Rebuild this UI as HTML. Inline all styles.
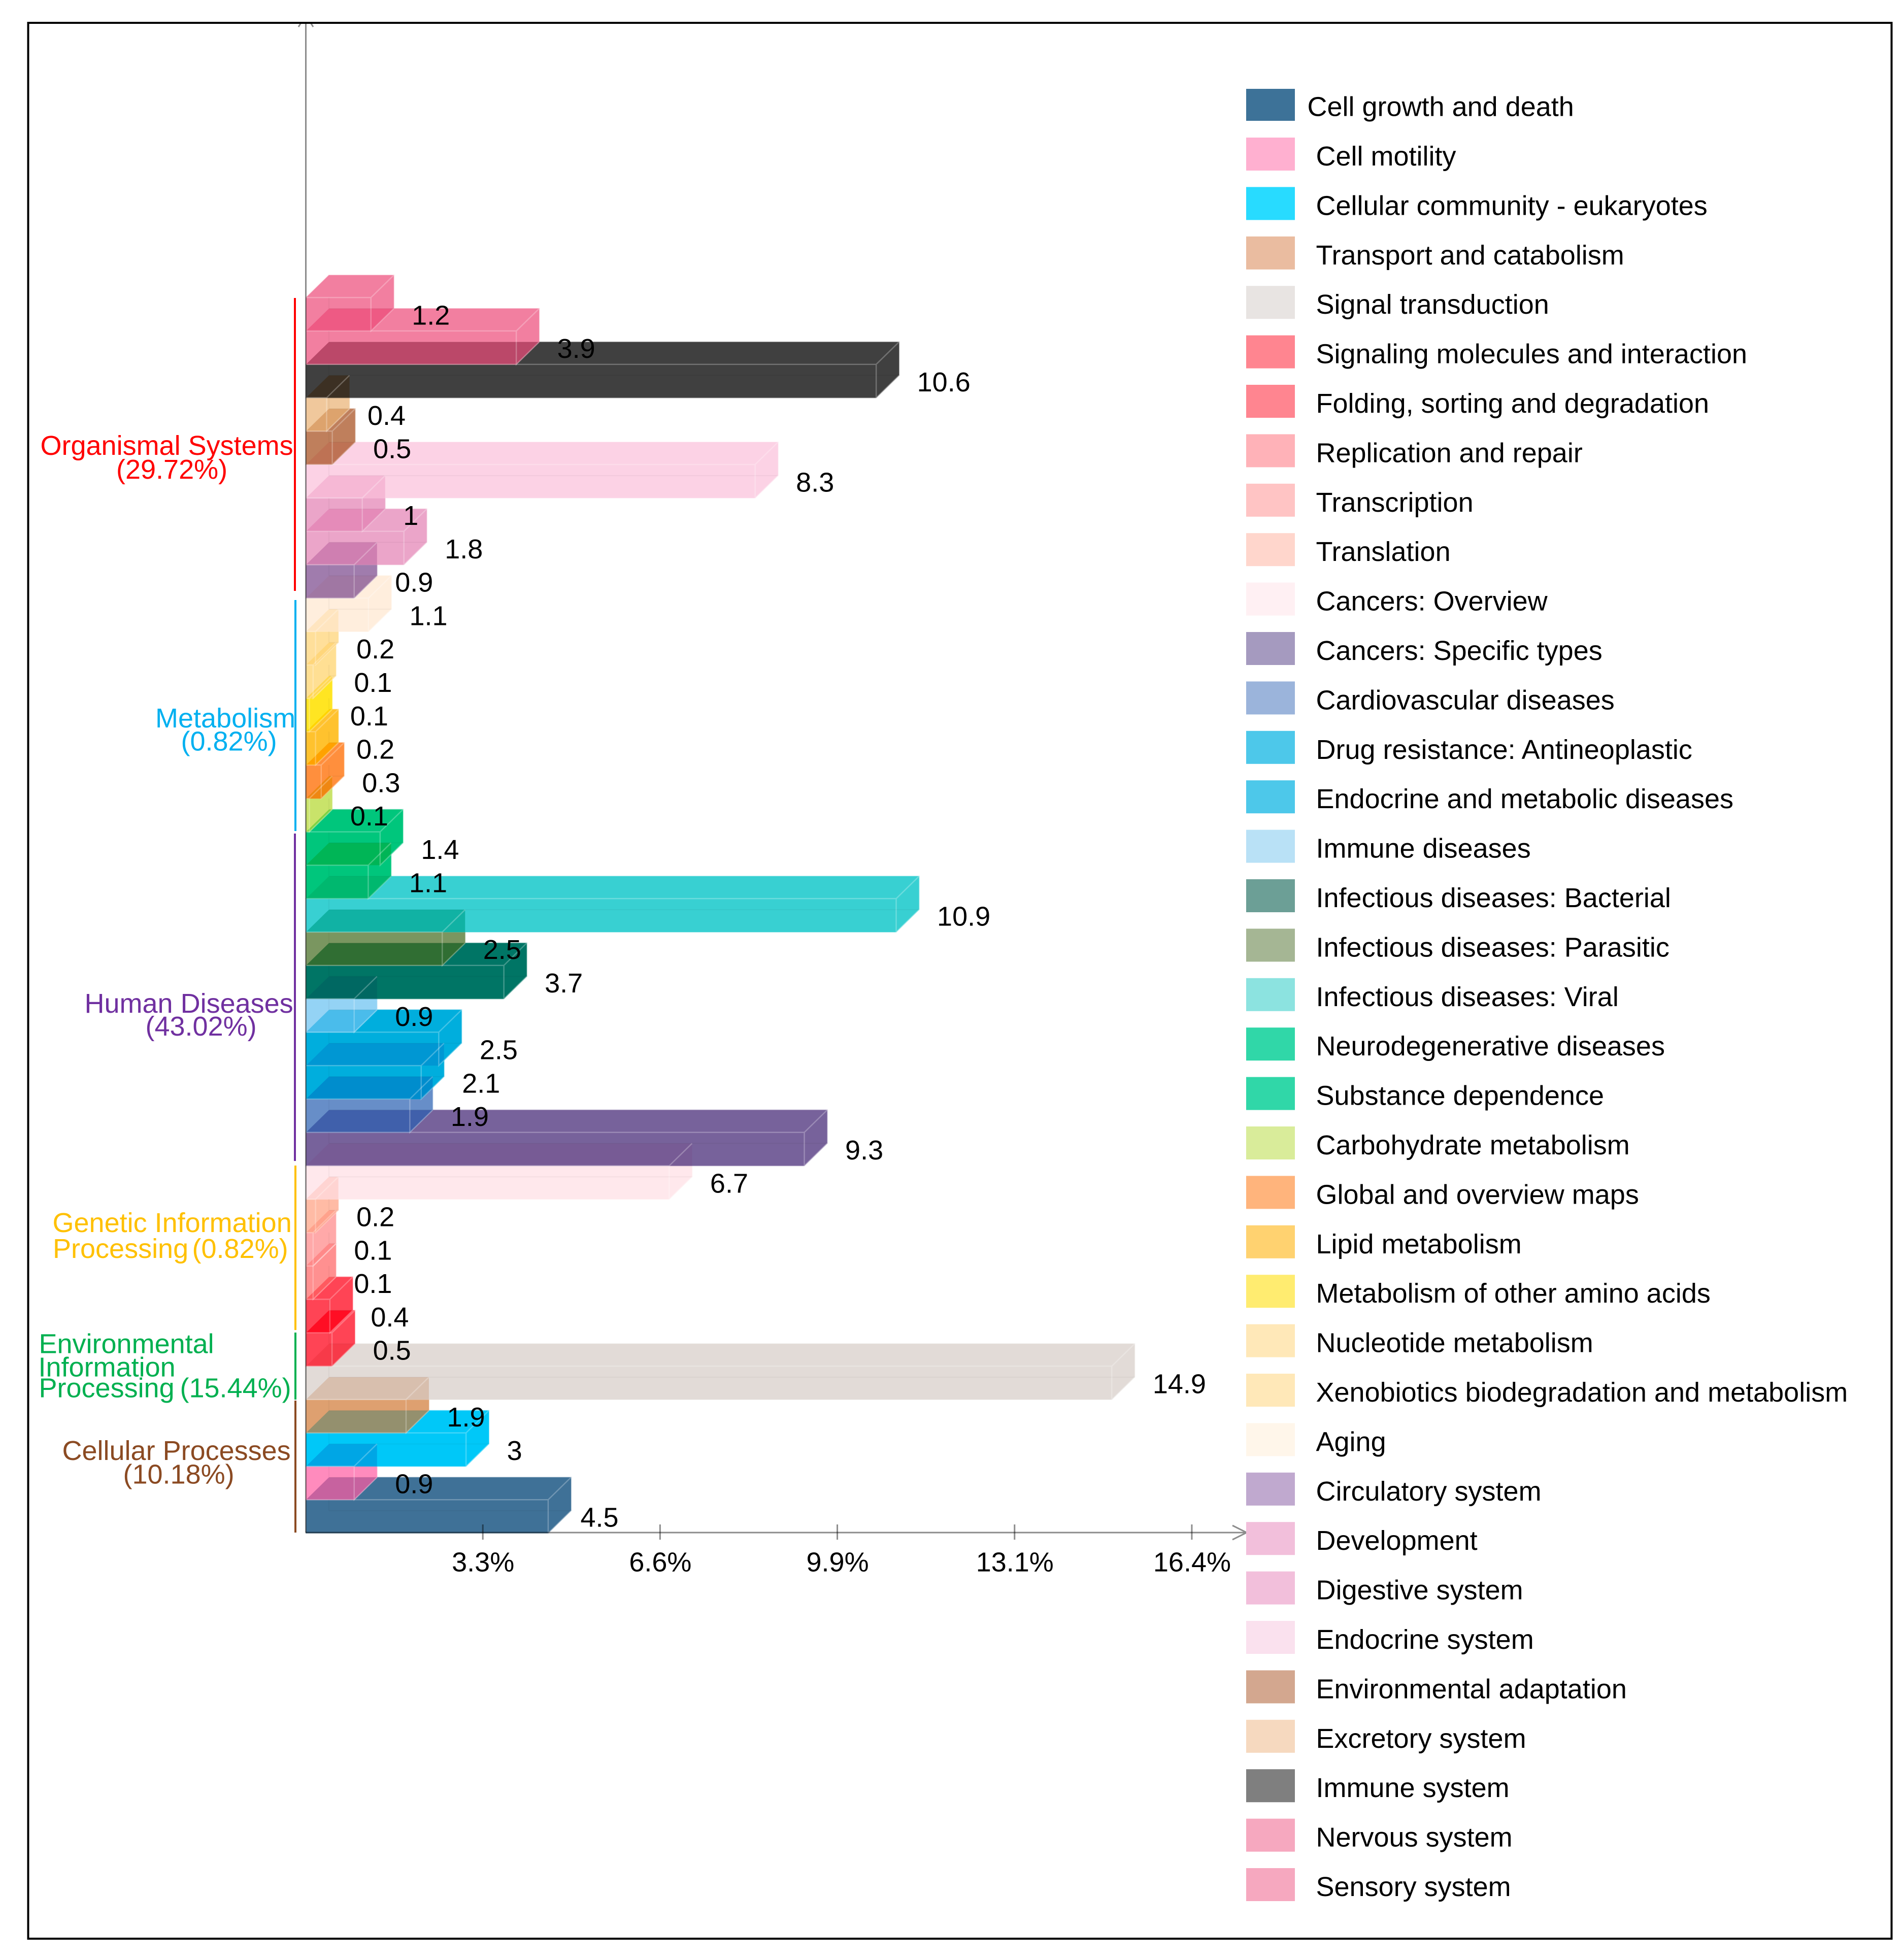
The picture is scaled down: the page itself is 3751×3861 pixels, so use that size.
<!DOCTYPE html>
<html lang="en">
<head>
<meta charset="utf-8">
<title>KEGG pathway classification chart</title>
<style>
html,body{margin:0;padding:0;background:#fff;}
#chart{display:block;font-family:"Liberation Sans",Arial,sans-serif;}
text{font-family:"Liberation Sans",Arial,sans-serif;font-size:54px;}
</style>
</head>
<body>
<svg id="chart" xmlns="http://www.w3.org/2000/svg" width="3751" height="3861" viewBox="0 0 3751 3861">
<rect x="0" y="0" width="3751" height="3861" fill="#ffffff"/>
<defs id="clips"></defs>
<g id="bars"></g>
<g id="axes"></g>
<g id="brackets"></g>
<g transform="translate(1.5,0)">
<text fill="#ff0000" x="78" y="896">Organismal Systems</text>
<text fill="#ff0000" x="227.5" y="943">(29.72%)</text>
<text fill="#00b0f0" x="304.5" y="1433">Metabolism</text>
<text fill="#00b0f0" x="355" y="1478.5">(0.82%)</text>
<text fill="#7030a0" x="165" y="1995">Human Diseases</text>
<text fill="#7030a0" x="285" y="2040">(43.02%)</text>
<text fill="#ffc000" x="102" y="2427">Genetic Information</text>
<text fill="#ffc000" x="102.5" y="2478">Processing</text>
<text fill="#ffc000" x="377" y="2478">(0.82%)</text>
<text fill="#00b050" x="75" y="2665.7">Environmental</text>
<text fill="#00b050" x="74" y="2711.7">Information</text>
<text fill="#00b050" x="75" y="2752.7">Processing</text>
<text fill="#00b050" x="353" y="2752.7">(15.44%)</text>
<text fill="#8b4a22" x="121" y="2876">Cellular Processes</text>
<text fill="#8b4a22" x="241" y="2922.7">(10.18%)</text>
</g>
<g id="value-labels"></g>
<g id="legend"></g>
<rect x="55.5" y="45" width="3671" height="3774" fill="none" stroke="#000000" stroke-width="4"/>
</svg>
<script>
const categories = ["Cell growth and death","Cell motility","Cellular community - eukaryotes","Transport and catabolism","Signal transduction","Signaling molecules and interaction","Folding, sorting and degradation","Replication and repair","Transcription","Translation","Cancers: Overview","Cancers: Specific types","Cardiovascular diseases","Drug resistance: Antineoplastic","Endocrine and metabolic diseases","Immune diseases","Infectious diseases: Bacterial","Infectious diseases: Parasitic","Infectious diseases: Viral","Neurodegenerative diseases","Substance dependence","Carbohydrate metabolism","Global and overview maps","Lipid metabolism","Metabolism of other amino acids","Nucleotide metabolism","Xenobiotics biodegradation and metabolism","Aging","Circulatory system","Development","Digestive system","Endocrine system","Environmental adaptation","Excretory system","Immune system","Nervous system","Sensory system"];
const values = [4.48,0.89,2.96,1.85,14.91,0.48,0.44,0.13,0.13,0.175,6.72,9.22,1.92,2.13,2.455,0.89,3.66,2.52,10.92,1.15,1.37,0.06,0.28,0.175,0.06,0.13,0.175,1.155,0.89,1.81,1.04,8.31,0.485,0.38,10.55,3.89,1.2];
const valueLabels = ["4.5","0.9","3","1.9","14.9","0.5","0.4","0.1","0.1","0.2","6.7","9.3","1.9","2.1","2.5","0.9","3.7","2.5","10.9","1.1","1.4","0.1","0.3","0.2","0.1","0.1","0.2","1.1","0.9","1.8","1","8.3","0.5","0.4","10.6","3.9","1.2"];
const barColors = ["#3f7197","#ff8bbd","#00c8f8","#dea070","#e2dbd7","#ff4455","#ff4455","#ff9090","#ffa9a9","#ffbba5","#ffe8ec","#77629b","#678ec8","#00aedd","#00aedd","#94d3f5","#007565","#7a9660","#38d0d2","#00c67c","#00c67c","#c9e36a","#ff8f3d","#ffc22e","#ffe522","#ffdf93","#ffdf9a","#ffeedd","#a07cad","#eba5c9","#eba5c9","#fcd2e5","#bf7f5c","#f0c89c","#404040","#f27fa0","#f27fa0"];
const swatchColors = ["#3d7298","#ffb0d0","#28dbff","#eabca0","#e8e4e2","#ff8590","#ff8590","#ffb2b8","#ffc4c4","#ffd6cc","#fff0f3","#a59abf","#9bb4db","#4dc8ea","#4dc8ea","#b9e1f6","#6c9f96","#a5b694","#8ce3e0","#30d7a8","#30d7a8","#d9ec9a","#ffb47c","#ffd270","#ffec70","#ffe8b8","#ffe8b8","#fff6ea","#c0a9cf","#f2bfdb","#f2bfdb","#fae1ee","#d3a78f","#f6d9bf","#7f7f7f","#f6a8bf","#f6a8bf"];
const tickValues = [3.28,6.56,9.84,13.12,16.4];
const tickLabels = ["3.3%","6.6%","9.9%","13.1%","16.4%"];

const NS = "http://www.w3.org/2000/svg";
const X0 = 603, PX = 106.46, Y0 = 3020, PITCH = 65.78, DX = 45, DY = 44;
function xScale(v){ return X0 + v * PX; }
function yBottom(k){ return Y0 - k * PITCH; }
function make(tag, attrs, parent){
  const e = document.createElementNS(NS, tag);
  for (const a in attrs) e.setAttribute(a, attrs[a]);
  parent.appendChild(e);
  return e;
}
function hex(c){ return [1,3,5].map(i => parseInt(c.substr(i,2),16)); }
function overlapColor(a,b){
  const A = hex(a), B = hex(b);
  const r = A.map((v,i) => Math.max(0, Math.round(v - (255 - B[i]) * 0.29)));
  return "rgb(" + r.join(",") + ")";
}
function hexagon(k){
  const yb = yBottom(k), yt = yBottom(k + 1), x1 = xScale(values[k]);
  return [[X0,yb],[X0,yt],[X0+DX,yt-DY],[x1+DX,yt-DY],[x1+DX,yb-DY],[x1,yb]].map(p => p.join(",")).join(" ");
}

const clips = document.getElementById("clips");
const barsG = document.getElementById("bars");
const labelsG = document.getElementById("value-labels");
const legendG = document.getElementById("legend");
const axesG = document.getElementById("axes");
const bracketsG = document.getElementById("brackets");

categories.forEach((c, k) => {
  const cp = make("clipPath", {id: "clip-" + k}, clips);
  make("polygon", {points: hexagon(k)}, cp);
});

categories.forEach((c, k) => {
  const body = make("polygon", {points: hexagon(k), fill: barColors[k], stroke: barColors[k], "stroke-opacity": 0.4, "stroke-width": 2}, barsG);
  
  
});

categories.forEach((c, k) => {
  if (k + 1 >= categories.length) return;
  const ov = make("polygon", {points: hexagon(k), fill: overlapColor(barColors[k + 1], barColors[k]), "clip-path": "url(#clip-" + (k + 1) + ")"}, barsG);
  
  
});

categories.forEach((c, k) => {
  const yb = yBottom(k), yt = yBottom(k + 1), x1 = xScale(values[k]);
  const hidden = make("path", {d: "M" + (X0+DX) + " " + (yb-DY) + "L" + (x1+DX) + " " + (yb-DY) + "M" + (X0+DX) + " " + yt + "L" + (X0+DX) + " " + (yb-DY), fill: "none", stroke: "#000", "stroke-opacity": 0.04, "stroke-width": 2}, barsG);
  
  
  const front = make("path", {d: "M" + X0 + " " + yt + "L" + x1 + " " + yt + "L" + x1 + " " + yb + "L" + (x1+DX) + " " + (yb-DY) + "M" + x1 + " " + yt + "L" + (x1+DX) + " " + (yt-DY), fill: "none", stroke: "#fff", "stroke-opacity": 0.26, "stroke-width": 2.5}, barsG);
  
  
});

categories.forEach((c, k) => {
  const t = make("text", {x: xScale(values[k]) + 80.5 - (k === 0 ? 17 : 0), y: yBottom(k) - 12.5, fill: "#000"}, labelsG);
  t.textContent = valueLabels[k];
  
  
});

categories.forEach((c, i) => {
  const top = i === 0 ? 175 : 271 + 97.4 * (i - 1);
  const sw = make("rect", {x: 2455, y: top, width: 96, height: i === 0 ? 63 : 65, fill: swatchColors[i]}, legendG);
  
  
  const t = make("text", {x: i === 0 ? 2575.5 : 2592.5, y: 326 + 97.4 * (i - 1), fill: "#000"}, legendG);
  t.textContent = c;
  
  
});

const axisStyle = {fill: "none", stroke: "#000", "stroke-opacity": 0.45, "stroke-width": 3};
const yAxis = make("path", Object.assign({d: "M602.5 45L602.5 3019M593 45L588 53M612 45L617 53"}, axisStyle), axesG);


const xAxis = make("path", Object.assign({d: "M602 3019L2456 3019M2428 3005L2456 3019L2428 3033"}, axisStyle), axesG);


tickValues.forEach((v, i) => {
  const x = xScale(v) - 1;
  const tick = make("line", Object.assign({x1: x, x2: x, y1: 3003, y2: 3033}, axisStyle), axesG);
  
  
  const t = make("text", {x: x + 0.5, y: 3095.6, "text-anchor": "middle", fill: "#000"}, axesG);
  t.textContent = tickLabels[i];
  
  
});

const bracketSpans = [[587,1164,"#ff0000",581],[1182,1637,"#00b0f0",582],[1642,2287,"#7030a0",581],[2296,2620,"#ffc000",582],[2625,2757,"#00b050",582],[2759,3019,"#8b4a22",582]];
bracketSpans.forEach(s => {
  const b = make("line", {x1: s[3], x2: s[3], y1: s[0], y2: s[1], stroke: s[2], "stroke-width": 4}, bracketsG);
  
  
});
</script>
</body>
</html>
